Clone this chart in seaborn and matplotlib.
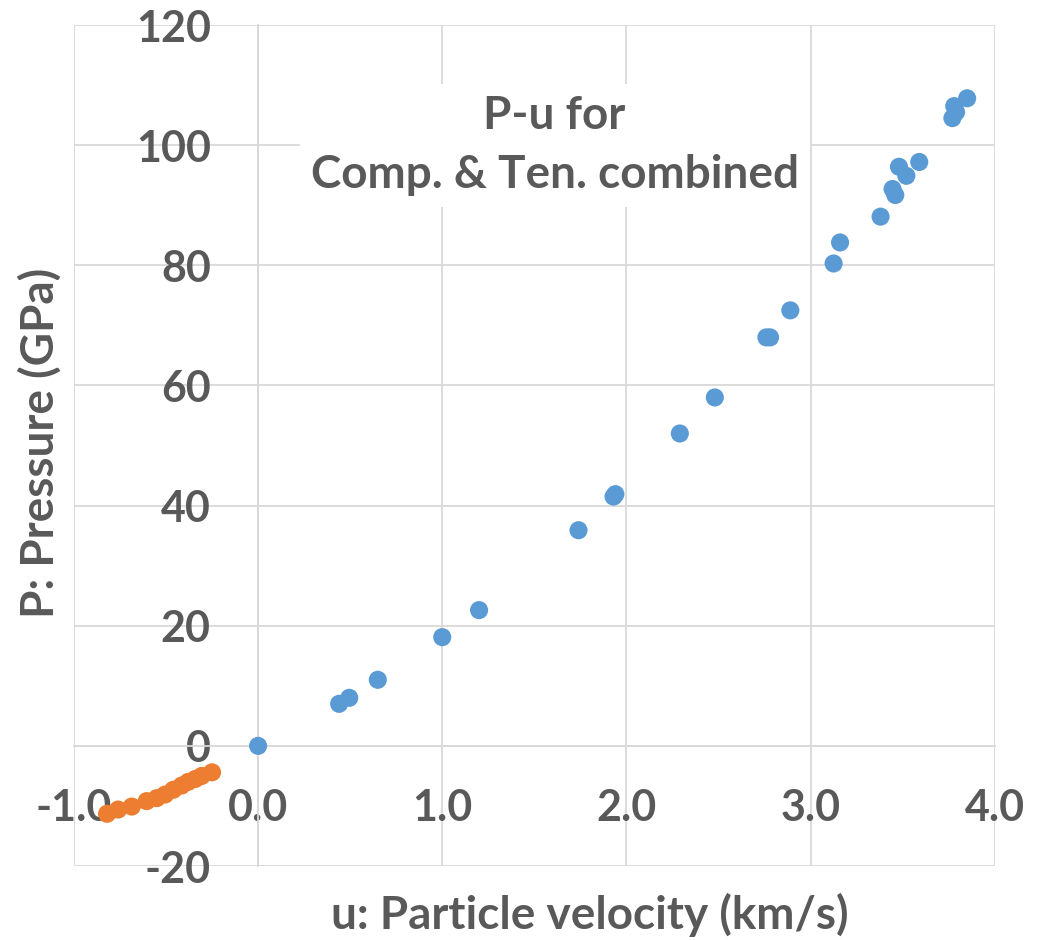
"""
P-u scatter: compression and tension data combined
"""

import numpy as np
import pandas as pd
import matplotlib
matplotlib.use('Agg')
import matplotlib.pyplot as plt
import seaborn as sns

# compression branch (blue)
comp_u = [0.0, 0.44, 0.495, 0.65, 1.0, 1.20, 1.74, 1.93, 1.94, 2.29, 2.48,
          2.76, 2.78, 2.89, 3.125, 3.16, 3.38, 3.445, 3.46, 3.48, 3.52, 3.59,
          3.77, 3.78, 3.79, 3.85]
comp_p = [0.0, 7.0, 8.0, 11.0, 18.1, 22.6, 35.9, 41.5, 41.9, 52.0, 58.0,
          68.0, 68.0, 72.5, 80.3, 83.8, 88.1, 92.7, 91.7, 96.4, 94.9, 97.2,
          104.5, 106.5, 105.5, 107.8]

# tension branch (orange)
ten_u = [-0.82, -0.76, -0.686, -0.605, -0.55, -0.505, -0.46, -0.415,
         -0.38, -0.34, -0.306, -0.25]
ten_p = [-11.3, -10.6, -10.1, -9.2, -8.7, -8.1, -7.3, -6.6,
         -6.0, -5.5, -5.0, -4.4]

x_ticks = [-1.0, 0.0, 1.0, 2.0, 3.0, 4.0]
y_ticks = [-20, 0, 20, 40, 60, 80, 100, 120]

BLUE = '#5B9BD5'
ORANGE = '#ED7D31'
GRID = '#D9D9D9'
TXT = '#595959'

sns.set_style('white')
plt.rcParams['font.family'] = ['Lato', 'DejaVu Sans']
plt.rcParams['font.weight'] = 'bold'

df = pd.DataFrame({
    'u': comp_u + ten_u,
    'P': comp_p + ten_p,
    'branch': ['Comp.'] * len(comp_u) + ['Ten.'] * len(ten_u),
})

fig = plt.figure(figsize=(10.56, 9.4), dpi=100)
ax = fig.add_axes([0.070, 0.0787, 0.872, 0.8947])

sns.scatterplot(data=df, x='u', y='P', hue='branch',
                palette={'Comp.': BLUE, 'Ten.': ORANGE},
                s=170, linewidth=0, legend=False, ax=ax, zorder=3)

ax.set_xlim(-1, 4)
ax.set_ylim(-20, 120)
ax.set_xticks(x_ticks)
ax.set_yticks(y_ticks)
ax.set_xticklabels([f'{v:.1f}' for v in x_ticks])
ax.set_yticklabels([str(v) for v in y_ticks])
ax.grid(True, color=GRID, linewidth=1.3)
ax.set_axisbelow(True)

# axes cross at the origin, excel style
for side in ['top', 'right']:
    ax.spines[side].set_visible(False)
ax.spines['left'].set_position(('data', 0))
ax.spines['bottom'].set_position(('data', 0))
for side in ['left', 'bottom']:
    ax.spines[side].set_color(GRID)
    ax.spines[side].set_linewidth(1.3)
    ax.spines[side].set_zorder(1)

ax.tick_params(axis='both', length=0, labelsize=31, labelcolor=TXT)
ax.tick_params(axis='y', pad=34)
ax.tick_params(axis='x', pad=30)
for lab in ax.get_xticklabels() + ax.get_yticklabels():
    lab.set_fontweight('bold')

ax.set_xlabel('u: Particle velocity (km/s)', fontsize=33, fontweight='bold',
              color=TXT, va='center')
ax.xaxis.set_label_coords(0.560, -0.058)
ax.set_ylabel('P: Pressure (GPa)', fontsize=33, fontweight='bold',
              color=TXT, va='center')
ax.yaxis.set_label_coords(-0.037, 0.503)

ax.text(1.61, 100, 'P-u for\nComp. & Ten. combined', ha='center', va='center',
        fontsize=33, fontweight='bold', color=TXT, linespacing=1.5,
        bbox=dict(facecolor='white', edgecolor='none', pad=8), zorder=2)

fig.savefig('out.png', dpi=100)
